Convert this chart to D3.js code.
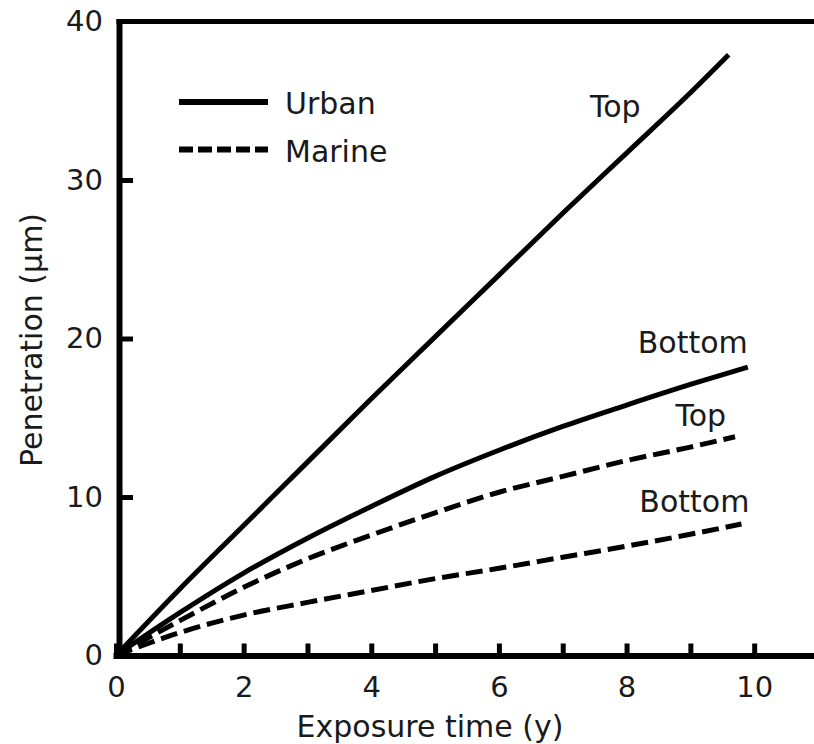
<!DOCTYPE html>
<html lang="en">
<head>
    <meta charset="UTF-8">
    <title>Penetration vs exposure time</title>
    <script src="https://d3js.org/d3.v7.min.js"></script>
    <style>
        body { margin: 0; background: #fff; }
        svg text { font-family: "DejaVu Sans", sans-serif; fill: #1a1a1a; }
        .axis .domain { stroke: #000; stroke-width: 6; stroke-linecap: square; }
        .axis .tick line { stroke: #000; stroke-width: 5; }
        .axis text { font-family: "DejaVu Sans", sans-serif; font-size: 29px; fill: #1a1a1a; }
    </style>
</head>
<body>
<script>
    // tick values
    var xLabelTicks = [0, 2, 4, 6, 8, 10];
    var xMinorTicks = [1, 3, 5, 7, 9];
    var yLabelTicks = [0, 10, 20, 30, 40];
    var yMarkTicks = [10, 20, 30];

    // curves (x = years, y = micrometres)
    var urbanTopX = [0, 1, 2, 3, 4, 5, 6, 7, 8, 9, 9.6];
    var urbanTopY = [0, 4.2, 8.2, 12.2, 16.2, 20.1, 24.0, 27.9, 31.7, 35.5, 37.9];
    var urbanBottomX = [0, 1, 2, 3, 4, 5, 6, 7, 8, 9, 9.9];
    var urbanBottomY = [0, 2.7, 5.2, 7.4, 9.4, 11.3, 12.95, 14.45, 15.8, 17.1, 18.2];
    var marineTopX = [0, 1, 2, 3, 4, 5, 6, 7, 8, 9, 9.7];
    var marineTopY = [0, 2.2, 4.3, 6.1, 7.6, 9.0, 10.3, 11.3, 12.3, 13.15, 13.8];
    var marineBottomX = [0, 1, 2, 3, 4, 5, 6, 7, 8, 9, 9.8];
    var marineBottomY = [0, 1.45, 2.55, 3.35, 4.1, 4.85, 5.5, 6.2, 6.9, 7.65, 8.3];

    var seriesNames = ['Urban', 'Marine'];
    var curveLabels = ['Top', 'Bottom', 'Top', 'Bottom'];

    var width = 814;
    var height = 744;
    var spineX = 119;

    var series = [
        {group: 'Urban', label: curveLabels[0], xs: urbanTopX, ys: urbanTopY, dx: -88, dy: 62},
        {group: 'Urban', label: curveLabels[1], xs: urbanBottomX, ys: urbanBottomY, dx: 0, dy: -14},
        {group: 'Marine', label: curveLabels[2], xs: marineTopX, ys: marineTopY, dx: -9, dy: -11},
        {group: 'Marine', label: curveLabels[3], xs: marineBottomX, ys: marineBottomY, dx: 8, dy: -12}
    ];

    var svg = d3.select('body')
        .append('svg')
        .attr('width', width)
        .attr('height', height);

    var xscale = d3.scaleLinear()
        .domain([0, 11])
        .range([116, 818]);

    var yscale = d3.scaleLinear()
        .domain([0, 40])
        .range([655.5, 21.5]);

    // x axis: ticks every year, labels every 2
    svg.append('g')
        .attr('class', 'axis')
        .attr('transform', 'translate(0,' + yscale(0) + ')')
        .call(d3.axisBottom(xscale)
            .tickValues(xMinorTicks)
            .tickSizeInner(-12)
            .tickSizeOuter(0)
            .tickFormat(''));

    svg.append('g')
        .attr('class', 'axis')
        .attr('transform', 'translate(0,' + yscale(0) + ')')
        .call(d3.axisBottom(xscale)
            .tickValues(xLabelTicks)
            .tickSizeInner(-12)
            .tickSizeOuter(0)
            .tickPadding(21)
            .tickFormat(d3.format('d')))
        .select('.domain').remove();

    // y axis
    var yaxis = svg.append('g')
        .attr('class', 'axis')
        .attr('transform', 'translate(' + spineX + ',0)')
        .call(d3.axisLeft(yscale)
            .tickValues(yLabelTicks)
            .tickSizeInner(0)
            .tickSizeOuter(0)
            .tickPadding(16)
            .tickFormat(d3.format('d')));

    yaxis.selectAll('.tick')
        .filter(function (d) { return yMarkTicks.indexOf(d) >= 0; })
        .select('line')
        .attr('x2', 14);

    // top frame line
    svg.append('line')
        .attr('x1', spineX)
        .attr('x2', width)
        .attr('y1', yscale(40))
        .attr('y2', yscale(40))
        .attr('stroke', '#000')
        .attr('stroke-width', 5)
        .attr('stroke-linecap', 'square');

    var line = d3.line()
        .x(function (d) { return xscale(d[0]); })
        .y(function (d) { return yscale(d[1]); })
        .curve(d3.curveMonotoneX);

    var dashFor = function (g) { return g === 'Marine' ? '17 7' : null; };

    series.forEach(function (s) {
        var pts = d3.zip(s.xs, s.ys);
        svg.append('path')
            .datum(pts)
            .attr('d', line)
            .attr('fill', 'none')
            .attr('stroke', '#000')
            .attr('stroke-width', 5)
            .attr('stroke-dasharray', dashFor(s.group));

        var last = pts[pts.length - 1];
        svg.append('text')
            .attr('x', xscale(last[0]) + s.dx)
            .attr('y', yscale(last[1]) + s.dy)
            .attr('text-anchor', 'end')
            .attr('font-size', 30)
            .text(s.label);
    });

    // legend
    var legend = svg.append('g')
        .attr('transform', 'translate(179,102)');

    seriesNames.forEach(function (name, i) {
        legend.append('line')
            .attr('x1', 0)
            .attr('x2', 89)
            .attr('y1', i * 47.5)
            .attr('y2', i * 47.5)
            .attr('stroke', '#000')
            .attr('stroke-width', 6)
            .attr('stroke-dasharray', name === 'Marine' ? '14 5' : null);
        legend.append('text')
            .attr('x', 106)
            .attr('y', i * 47.5 + 12)
            .attr('font-size', 30)
            .text(name);
    });

    // axis titles
    svg.append('text')
        .attr('x', 430)
        .attr('y', 737)
        .attr('text-anchor', 'middle')
        .attr('font-size', 30)
        .text('Exposure time (y)');

    svg.append('text')
        .attr('transform', 'translate(42,340) rotate(-90)')
        .attr('text-anchor', 'middle')
        .attr('font-size', 30)
        .text('Penetration (\u03bcm)');
</script>
</body>
</html>
